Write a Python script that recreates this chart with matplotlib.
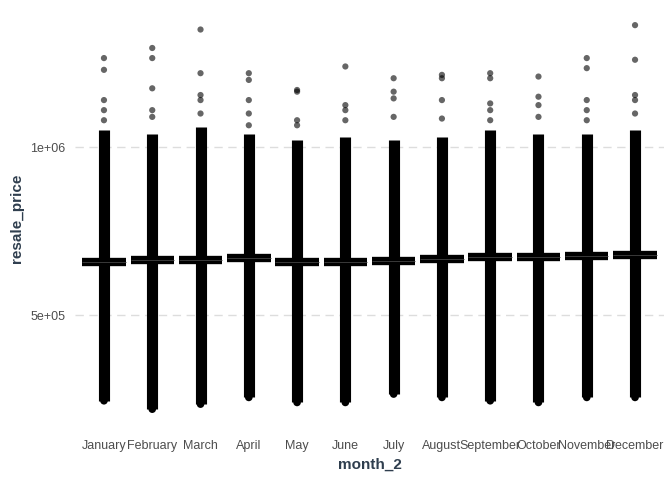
import numpy as np
import matplotlib.pyplot as plt

plt.rcParams['font.family'] = ['Liberation Sans', 'DejaVu Sans']

months = ['January', 'February', 'March', 'April', 'May', 'June', 'July',
          'August', 'September', 'October', 'November', 'December']
# dense range of each month's points (min, top of the dense column)
dense_low = [245e3, 220e3, 235e3, 255e3, 240e3, 240e3, 265e3, 255e3, 245e3, 240e3, 255e3, 255e3]
dense_high = [1.05e6, 1.04e6, 1.06e6, 1.04e6, 1.02e6, 1.03e6, 1.02e6, 1.03e6, 1.05e6, 1.04e6, 1.04e6, 1.05e6]
# sparse high-priced points above the dense column
outliers = [
    [1.265e6, 1.23e6, 1.14e6, 1.11e6, 1.08e6],
    [1.295e6, 1.265e6, 1.175e6, 1.11e6, 1.09e6],
    [1.35e6, 1.22e6, 1.155e6, 1.14e6, 1.10e6],
    [1.22e6, 1.20e6, 1.14e6, 1.10e6, 1.065e6],
    [1.17e6, 1.165e6, 1.08e6, 1.065e6],
    [1.24e6, 1.125e6, 1.11e6, 1.08e6],
    [1.205e6, 1.165e6, 1.145e6, 1.09e6],
    [1.215e6, 1.205e6, 1.14e6, 1.085e6],
    [1.22e6, 1.205e6, 1.13e6, 1.11e6, 1.08e6],
    [1.21e6, 1.15e6, 1.125e6, 1.09e6],
    [1.265e6, 1.235e6, 1.14e6, 1.11e6, 1.08e6],
    [1.363e6, 1.26e6, 1.155e6, 1.14e6, 1.10e6],
]
means = [658e3, 664e3, 663e3, 670e3, 658e3, 658e3, 661e3, 667e3, 673e3, 672e3, 676e3, 679e3]

fig = plt.figure(figsize=(6.72, 4.8), dpi=100)
ax = fig.add_axes([75 / 672, 50 / 480, 589 / 672, 424 / 480])
x = np.arange(1, 13)

ax.vlines(x, dense_low, dense_high, color='black', lw=8, capstyle='butt', zorder=2)
for i, vals in enumerate(outliers):
    ax.scatter([x[i]] * len(vals), vals, s=20, color='black', alpha=0.6,
               edgecolors='none', zorder=3)
ax.scatter(x, dense_low, s=30, color='black', edgecolors='none', zorder=3)
ax.hlines(means, x - 0.45, x + 0.45, color='black', lw=6, zorder=4)
ax.hlines(means, x - 0.45, x + 0.45, color='#444444', lw=0.6, zorder=5)

ax.set_xlim(0.4, 12.6)
ax.set_ylim(158e3, 1.42e6)
ax.set_xticks(x)
ax.set_xticklabels(months)
ax.set_yticks([5e5, 1e6])
ax.set_yticklabels(['5e+05', '1e+06'])
ax.grid(axis='y', color='#dddddd', ls=(0, (6, 4)), lw=1)
ax.set_axisbelow(True)
ax.tick_params(length=0, labelsize=9, colors='#4d4d4d', pad=7)
for s in ax.spines.values():
    s.set_visible(False)
ax.set_xlabel('month_2', fontsize=11, fontweight='bold', color='#2f3e4e', labelpad=4)
ax.set_ylabel('resale_price', fontsize=11, fontweight='bold', color='#2f3e4e', labelpad=4)

fig.savefig('out.png', dpi=100)
